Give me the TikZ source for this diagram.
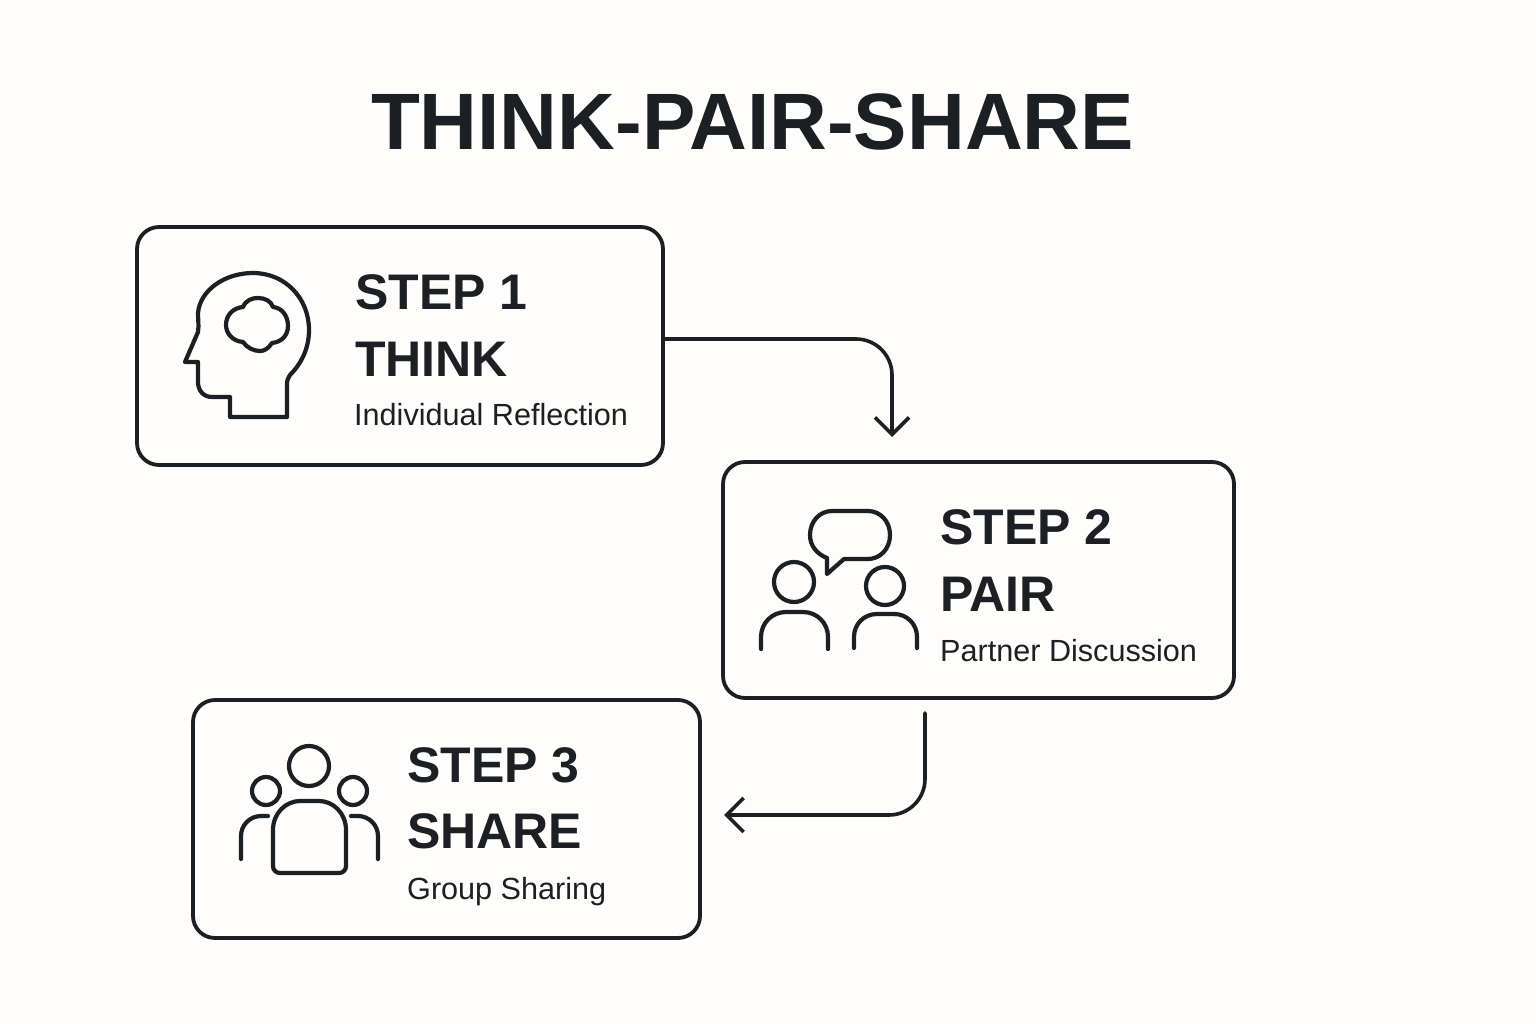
\documentclass[tikz,border=0pt]{standalone}
\usepackage{fontspec}
\setmainfont{Liberation Sans}
\usetikzlibrary{arrows.meta}
\definecolor{pagebg}{HTML}{FEFDFB}
\definecolor{inkdark}{HTML}{1C2024}
\tikzset{
  stepbox/.style={draw=inkdark, line width=3.8pt, rounded corners=22pt, rectangle,
    inner sep=0pt, outer sep=0pt, anchor=north west},
  headline/.style={anchor=base west, inner sep=0pt, text=inkdark, font=\fontsize{50}{50}\selectfont\bfseries},
  subline/.style={anchor=base west, inner sep=0pt, text=inkdark, font=\fontsize{30.6}{30.6}\selectfont},
  icon/.style={draw=inkdark, line width=4.2pt, line join=round, line cap=round},
  flow/.style={draw=inkdark, line width=3.6pt, line cap=round, rounded corners=36pt,
    -{Straight Barb[length=17pt,width=34pt,line width=3.6pt]}},
}
\begin{document}
\begin{tikzpicture}[x=1pt, y=-1pt]
    \fill[pagebg] (0,0) rectangle (1536,1024);

    \node [anchor=base, inner sep=0pt, text=inkdark, font=\fontsize{80}{80}\selectfont\bfseries] (title) at (752.5,150) {THINK-PAIR-SHARE};

    \node [stepbox, minimum width=526pt, minimum height=238pt] (think) at (137,227) {};
    \node [stepbox, minimum width=511pt, minimum height=236pt] (pair) at (723,462) {};
    \node [stepbox, minimum width=507pt, minimum height=238pt] (share) at (193,700) {};

    % step 1
    \node [headline] (thinkstep) at (355,309) {STEP 1};
    \node [headline] (thinkname) at (355,376) {THINK};
    \node [subline] (thinksub) at (354,425) {Individual Reflection};

    % step 2
    \node [headline] (pairstep) at (940,544) {STEP 2};
    \node [headline] (pairname) at (940,611) {PAIR};
    \node [subline] (pairsub) at (940,661) {Partner Discussion};

    % step 3
    \node [headline] (sharestep) at (407,782) {STEP 3};
    \node [headline] (sharename) at (407,848) {SHARE};
    \node [subline] (sharesub) at (407,899) {Group Sharing};

    % head
    \draw [icon] (287,417) -- (230,417) -- (230,397) -- (212,397)
        .. controls (203,397) and (198,390) .. (198,382) -- (198,362) -- (185,362)
        -- (198,332) .. controls (199,325) and (198,320) .. (198,313)
        .. controls (200,290) and (225,273) .. (253,273)
        .. controls (285,273) and (309,298) .. (309,330)
        .. controls (309,350) and (300,365) .. (290,375)
        .. controls (288,378) and (287,380) .. (287,385) -- cycle;
    \draw [icon] (243,307) .. controls (246,300) and (252,298) .. (258,298)
        .. controls (265,298) and (271,301) .. (273,307)
        .. controls (283,308) and (288,317) .. (288,326)
        .. controls (288,335) and (282,342) .. (272,343)
        .. controls (268,349) and (264,351) .. (260,351)
        .. controls (254,351) and (247,348) .. (243,342)
        .. controls (232,341) and (226,333) .. (226,325)
        .. controls (226,315) and (233,308) .. (243,307);

    % two people
    \draw [icon] (827,558) -- (827,574) -- (844,559) -- (868,559)
        .. controls (880,559) and (890,549) .. (890,535)
        .. controls (890,521) and (880,511) .. (868,511) -- (832,511)
        .. controls (820,511) and (810,521) .. (810,535)
        .. controls (810,546) and (817,554) .. (827,558);
    \draw [icon] (794,582) circle (20pt);
    \draw [icon] (885,586) circle (19pt);
    \draw [icon] (761,649) -- (761,637) .. controls (761,623) and (772,612) .. (786,612)
        -- (803,612) .. controls (817,612) and (828,623) .. (828,637) -- (828,649);
    \draw [icon] (854,648) -- (854,637) .. controls (854,624) and (864,614) .. (877,614)
        -- (894,614) .. controls (907,614) and (917,624) .. (917,637) -- (917,648);

    % group
    \draw [icon] (309,766) circle (20pt);
    \draw [icon] (266,791) circle (14pt);
    \draw [icon] (353,791) circle (14pt);
    \draw [icon] (273,830) .. controls (273,813) and (286,801) .. (300,801)
        -- (319,801) .. controls (333,801) and (346,813) .. (346,830)
        -- (346,866) .. controls (346,870) and (343,873) .. (339,873)
        -- (280,873) .. controls (276,873) and (273,870) .. (273,866) -- cycle;
    \draw [icon] (268,816) -- (261,816) .. controls (250,816) and (241,825) .. (241,836) -- (241,859);
    \draw [icon] (351,816) -- (358,816) .. controls (369,816) and (378,825) .. (378,836) -- (378,859);

    % arrows
    \coordinate (pairin) at (892,437);
    \coordinate (pairout) at (925,713);
    \coordinate (sharein) at (724,815);
    \draw [flow] ([yshift=7pt]think.east) -| (pairin);
    \draw [flow] (pairout) |- (sharein);
\end{tikzpicture}
\end{document}
